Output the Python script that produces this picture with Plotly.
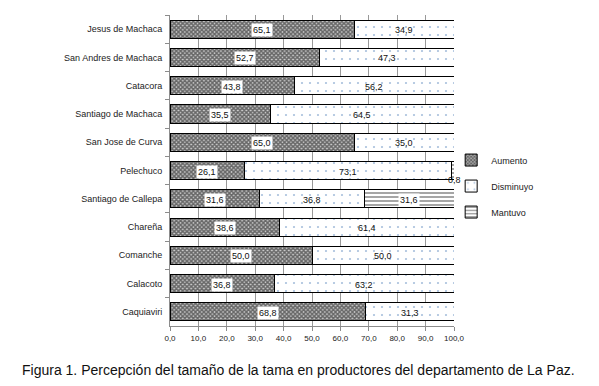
import plotly.graph_objects as go

categories = ["Jesus de Machaca", "San Andres de Machaca", "Catacora", "Santiago de Machaca",
              "San Jose de Curva", "Pelechuco", "Santiago de Callepa", "Chareña",
              "Comanche", "Calacoto", "Caquiaviri"]
aumento = [65.1, 52.7, 43.8, 35.5, 65.0, 26.1, 31.6, 38.6, 50.0, 36.8, 68.8]
disminuyo = [34.9, 47.3, 56.2, 64.5, 35.0, 73.1, 36.8, 61.4, 50.0, 63.2, 31.3]
mantuvo = [0, 0, 0, 0, 0, 0.8, 31.6, 0, 0, 0, 0]
x_ticks = [0, 10, 20, 30, 40, 50, 60, 70, 80, 90, 100]
caption = "Figura 1. Percepción del tamaño de la tama en productores del departamento de La Paz."

FONT = "Liberation Sans"

def fmt(v):
    return f"{v:.1f}".replace(".", ",")

fig = go.Figure()
fig.add_trace(go.Bar(
    y=categories, x=aumento, orientation="h", name="Aumento", legendgroup="a",
    marker=dict(color="white", line=dict(color="black", width=1),
                pattern=dict(shape="x", size=3, solidity=0.75, fgcolor="#000000", bgcolor="#cfcfcf")),
))
fig.add_trace(go.Bar(
    y=categories, x=disminuyo, orientation="h", name="Disminuyo", legendgroup="d",
    marker=dict(color="white", line=dict(color="black", width=1),
                pattern=dict(shape=".", size=8, solidity=0.06, fgcolor="#4f7fb8", bgcolor="#ffffff")),
))
fig.add_trace(go.Bar(
    y=categories, x=mantuvo, orientation="h", name="Mantuvo", legendgroup="m",
    marker=dict(color="white", line=dict(color="black", width=1),
                pattern=dict(shape="-", size=4, solidity=0.35, fgcolor="#000000", bgcolor="#ffffff")),
))

annotations = []
for c, a, d, m in zip(categories, aumento, disminuyo, mantuvo):
    annotations.append(dict(x=a / 2, y=c, xref="x", yref="y", text=fmt(a), showarrow=False,
                            font=dict(family=FONT, size=9, color="#111"),
                            bgcolor="white", borderpad=1, yshift=-1))
    annotations.append(dict(x=a + d / 2, y=c, xref="x", yref="y", text=fmt(d), showarrow=False,
                            font=dict(family=FONT, size=9, color="#111"), yshift=-1))
    if m > 0:
        if m < 5:
            annotations.append(dict(x=a + d + m, y=c, xref="x", yref="y", text=fmt(m), showarrow=False,
                                    font=dict(family=FONT, size=9, color="#111"), yshift=-9))
        else:
            annotations.append(dict(x=a + d + m / 2, y=c, xref="x", yref="y", text=fmt(m), showarrow=False,
                                    font=dict(family=FONT, size=9, color="#111"),
                                    bgcolor="white", borderpad=1, yshift=-1))

annotations.append(dict(x=0.454, y=-0.141, xref="paper", yref="paper", text=caption, showarrow=False,
                        xanchor="center", yanchor="middle",
                        font=dict(family=FONT, size=14, color="#111")))

fig.update_layout(
    width=591, height=378,
    margin=dict(l=162, r=145, t=7, b=60),
    barmode="stack", bargap=0.36,
    plot_bgcolor="white", paper_bgcolor="white",
    separators=",.",
    font=dict(family=FONT, size=9, color="#222"),
    showlegend=True,
    legend=dict(x=0.99, y=0.45, xanchor="left", yanchor="middle",
                traceorder="grouped", tracegroupgap=7,
                font=dict(family=FONT, size=9, color="#222"),
                itemwidth=30, bgcolor="rgba(0,0,0,0)"),
    annotations=annotations,
)
fig.update_xaxes(range=[0, 100], tickvals=x_ticks, tickformat=".1f",
                 showgrid=True, gridcolor="#999999", gridwidth=1,
                 showline=True, linecolor="#8c8c8c", ticks="outside", ticklen=4, tickcolor="#8c8c8c",
                 tickfont=dict(family=FONT, size=8, color="#222"), zeroline=False, fixedrange=True)
fig.update_yaxes(autorange="reversed", showgrid=False, showline=True, linecolor="#8c8c8c",
                 ticks="outside", tickson="boundaries", ticklen=4, tickcolor="#8c8c8c",
                 tickfont=dict(family=FONT, size=9, color="#222"), ticksuffix="  ")

fig.write_html("out.html")
